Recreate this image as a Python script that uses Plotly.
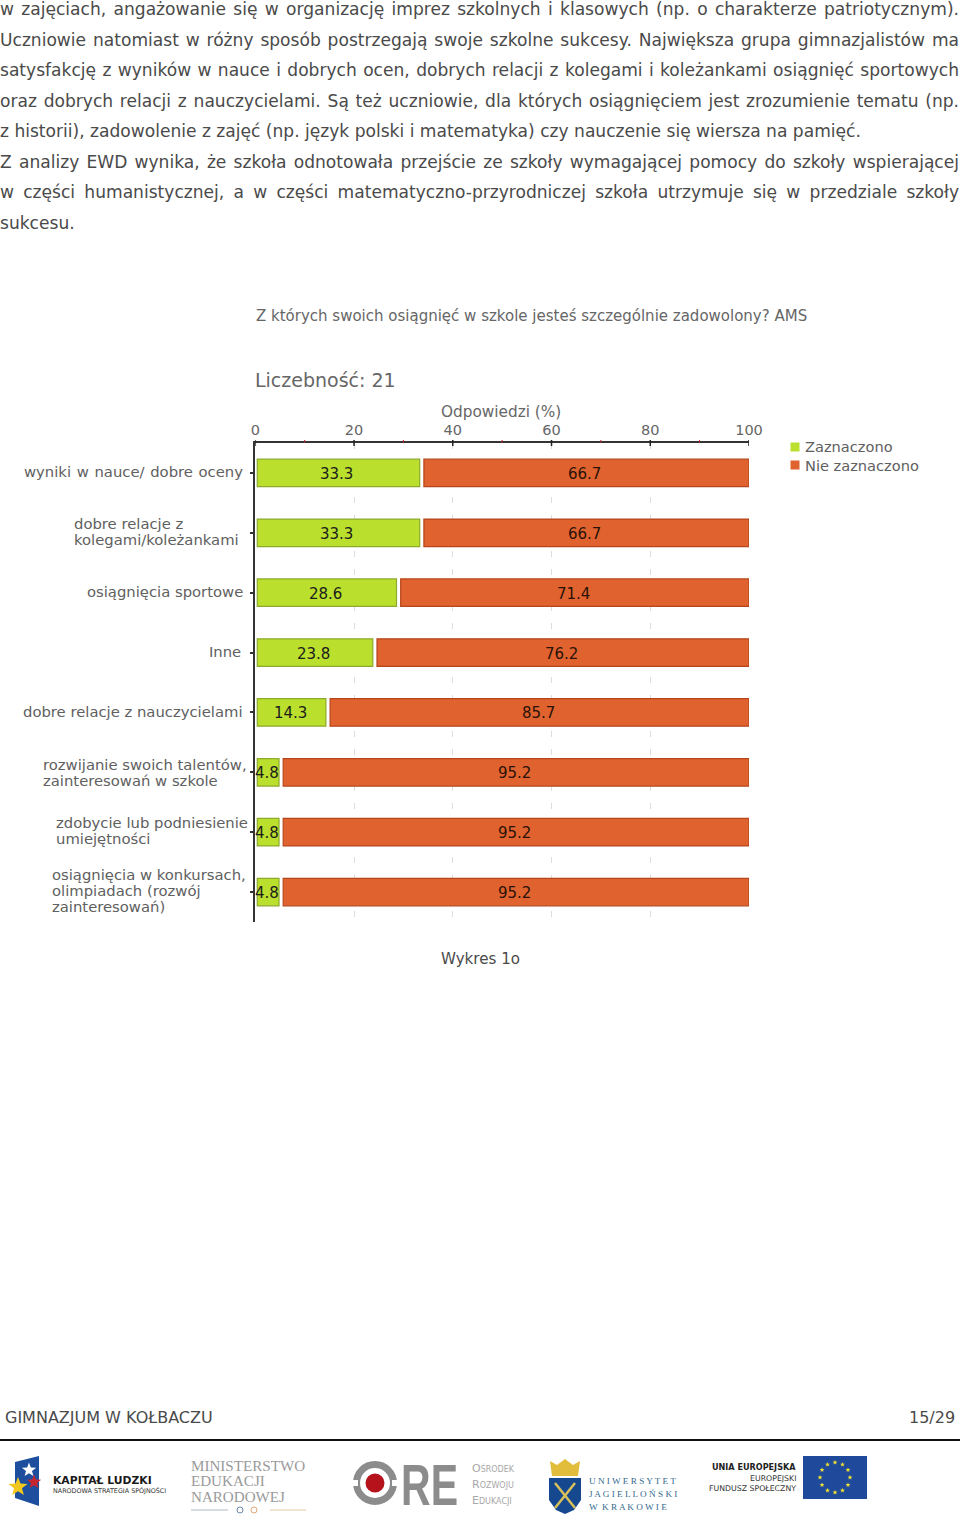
import json
import math
import plotly.graph_objects as go

W, H = 960, 1528

categories = ["wyniki w nauce/ dobre oceny", "dobre relacje z kolegami/koleżankami", "osiągnięcia sportowe", "Inne",
              "dobre relacje z nauczycielami", "rozwijanie swoich talentów, zainteresowań w szkole",
              "zdobycie lub podniesienie umiejętności", "osiągnięcia w konkursach, olimpiadach (rozwój zainteresowań)"]
zaznaczono = [33.3, 33.3, 28.6, 23.8, 14.3, 4.8, 4.8, 4.8]
nie_zaznaczono = [66.7, 66.7, 71.4, 76.2, 85.7, 95.2, 95.2, 95.2]
x_ticks = [0, 20, 40, 60, 80, 100]
x_minor_ticks = [10, 30, 50, 70, 90]

label_lines = [["wyniki w nauce/ dobre oceny"], ["dobre relacje z", "kolegami/koleżankami"], ["osiągnięcia sportowe"], ["Inne"],
               ["dobre relacje z nauczycielami"], ["rozwijanie swoich talentów,", "zainteresowań w szkole"],
               ["zdobycie lub podniesienie", "umiejętności"], ["osiągnięcia w konkursach,", "olimpiadach (rozwój", "zainteresowań)"]]
label_left = [24, 74, 87, 209, 23, 43, 56, 52]
label_nudge = [0, 0, 0, 0, 0, 1, -1, -1]

body_lines = [
    ("w zajęciach, angażowanie się w organizację imprez szkolnych i klasowych (np. o charakterze patriotycznym).", True),
    ("Uczniowie natomiast w różny sposób postrzegają swoje szkolne sukcesy. Największa grupa gimnazjalistów ma", True),
    ("satysfakcję z wyników w nauce i dobrych ocen, dobrych relacji z kolegami i koleżankami osiągnięć sportowych", True),
    ("oraz dobrych relacji z nauczycielami. Są też uczniowie, dla których osiągnięciem jest zrozumienie tematu (np.", True),
    ("z historii), zadowolenie z zajęć (np. język polski i matematyka) czy nauczenie się wiersza na pamięć.", False),
    ("Z analizy EWD wynika, że szkoła odnotowała przejście ze szkoły wymagającej pomocy do szkoły wspierającej", True),
    ("w części humanistycznej, a w części matematyczno-przyrodniczej szkoła utrzymuje się w przedziale szkoły", True),
    ("sukcesu.", False),
]
body_y = [9, 40, 70, 101, 131, 162, 192, 223]

GREEN, GREEN_EDGE = "#BADF2C", "#8DAA2C"
RED, RED_EDGE = "#E0622E", "#B5451B"
SANS = "DejaVu Sans"
GRAY = "#555555"
INSET, GAP = 0.4, 0.85


def px(x):
    return x / W


def py(y):
    return 1 - y / H


annotations = []
shapes = []


def T(x, y, text, size=14, color=GRAY, anchor="left", family=SANS):
    annotations.append(dict(xref="paper", yref="paper", x=px(x), y=py(y), text=text, showarrow=False,
                            xanchor=anchor, yanchor="middle", align=anchor,
                            font=dict(size=size, color=color, family=family),
                            borderpad=0, borderwidth=0))


def rect(x0, y0, x1, y1, fill, line=None):
    shapes.append(dict(type="rect", xref="paper", yref="paper", x0=px(x0), x1=px(x1), y0=py(y0), y1=py(y1),
                       fillcolor=fill, line=dict(width=0 if line is None else 1, color=line or fill)))


def circle(cx, cy, r, fill, line=None, lw=0):
    shapes.append(dict(type="circle", xref="paper", yref="paper", x0=px(cx - r), x1=px(cx + r), y0=py(cy - r), y1=py(cy + r),
                       fillcolor=fill, line=dict(width=lw, color=line or fill)))


def poly(points, fill, line=None, lw=0):
    d = "M " + " L ".join(f"{px(a):.5f},{py(b):.5f}" for a, b in points) + " Z"
    shapes.append(dict(type="path", xref="paper", yref="paper", path=d, fillcolor=fill,
                       line=dict(width=lw, color=line or fill)))


def seg(x0, y0, x1, y1, color, lw=1):
    shapes.append(dict(type="line", xref="paper", yref="paper", x0=px(x0), x1=px(x1), y0=py(y0), y1=py(y1),
                       line=dict(width=lw, color=color)))


def star(cx, cy, r, fill):
    pts = []
    for i in range(10):
        a = -math.pi / 2 + i * math.pi / 5
        rr = r if i % 2 == 0 else r * 0.42
        pts.append((cx + rr * math.cos(a), cy + rr * math.sin(a)))
    poly(pts, fill)


# --- body text ---
targets = {"wyniki w nauce/ dobre oceny": 219}
for (line, just), y in zip(body_lines, body_y):
    T(0, y, line, size=17.08, color="#4a4a4a")
    if just:
        targets[line] = 959

# --- chart texts ---
T(256, 316, "Z których swoich osiągnięć w szkole jesteś szczególnie zadowolony? AMS", 15, "#666666")
T(255, 380, "Liczebność: 21", 19, "#666666")
T(501, 412, "Odpowiedzi (%)", 15.3, "#666666", "center")
T(480, 959, "Wykres 1o", 15.1, "#4a4a4a", "center")

# --- category labels, line by line ---
for i, (lines, left, nudge) in enumerate(zip(label_lines, label_left, label_nudge)):
    centre = 472 + 59.95 * i + nudge
    top = centre - (len(lines) - 1) * 8
    for j, s in enumerate(lines):
        T(left, top + j * 16, s, 14.8, "#606060")

# --- legend ---
for y, s, c in zip([447, 465], ["Zaznaczono", "Nie zaznaczono"], [GREEN, RED]):
    rect(790.5, y - 4.5, 799.5, y + 4.5, c)
    T(805, y, s, 14.6, "#606060")

# --- footer ---
T(5, 1417, "GIMNAZJUM W KOŁBACZU", 16, "#4a4a4a")
T(955, 1417, "15/29", 16, "#4a4a4a", "right")
seg(0, 1440, 960, 1440, "#111111", 2)

# --- logos: Kapitał Ludzki ---
poly([(15, 1462), (39, 1456), (39, 1506), (15, 1498)], "#1d4f9e")
star(29, 1470, 7.5, "#ffffff")
star(18, 1487, 10, "#f3c81e")
star(34, 1482, 7.5, "#c8262e")
T(53, 1480, "<b>KAPITAŁ LUDZKI</b>", 10.8, "#1a1a1a")
T(53, 1491, "NARODOWA STRATEGIA SPÓJNOŚCI", 6.4, "#333333")

# --- MEN ---
for y, s in zip([1466, 1481, 1497], ["MINISTERSTWO", "EDUKACJI", "NARODOWEJ"]):
    T(191, y, s, 15.1, "#9a9a9a", family="Liberation Serif")
seg(191, 1510, 228, 1510, "#aeb9c4", 1)
seg(270, 1510, 306, 1510, "#e6c9a8", 1)
circle(240, 1510, 3, "#ffffff", "#6d8aa8", 1)
circle(254, 1510, 3, "#ffffff", "#e0a878", 1)

# --- ORE ---
circle(375, 1483, 18.5, "rgba(0,0,0,0)", "#8c8c8c", 7)
rect(350, 1480, 358, 1486, "#ffffff")
rect(392, 1480, 400, 1486, "#ffffff")
circle(375, 1483, 9.5, "#b5121b")
T(401, 1484, "<b>RE</b>", 58, "#8c8c8c", family="Liberation Sans")
for y, s in zip([1468, 1484, 1500], ["Ośrodek", "Rozwoju", "Edukacji"]):
    T(472, y, f"<span style='font-size:11px'>{s[0]}</span>{s[1:].upper()}", 8, "#a8a8a8")

# --- UJ ---
poly([(550, 1461), (557, 1465), (565, 1459), (573, 1465), (580, 1461), (578, 1476), (552, 1476)], "#e2bd3c")
poly([(549, 1478), (581, 1478), (581, 1500), (574, 1510), (565, 1514), (556, 1510), (549, 1500)], "#15488e")
seg(555, 1483, 575, 1508, "#d8c05a", 2.5)
seg(575, 1483, 555, 1508, "#d8c05a", 2.5)
for y, s in zip([1481, 1494, 1507], ["U N I W E R S Y T E T", "J A G I E L L O Ń S K I", "W  K R A K O W I E"]):
    T(589, y, s, 9.2, "#356a8e", family="Liberation Serif")

# --- EU ---
rect(803, 1456, 867, 1499, "#1f4a9b")
for k in range(12):
    a = k * math.pi / 6
    star(835 + 15 * math.cos(a), 1477.5 + 15 * math.sin(a), 2.6, "#f0e030")
T(796, 1467, "<b>UNIA EUROPEJSKA</b>", 8.1, "#222222", "right")
T(796, 1478, "EUROPEJSKI", 7.8, "#333333", "right")
T(796, 1488, "FUNDUSZ SPOŁECZNY", 7.8, "#333333", "right")

# --- x-axis ticks: black ones cross the axis line, short red ones sit above it ---
for v in x_ticks:
    shapes.append(dict(type="line", xref="x", yref="paper", x0=v, x1=v, y0=py(440), y1=py(446),
                       line=dict(width=1.5, color="#222222")))
for v in x_minor_ticks:
    shapes.append(dict(type="line", xref="x", yref="paper", x0=v, x1=v, y0=py(443), y1=py(440),
                       line=dict(width=1, color="#b0203a")))

# --- bars ---
green_w = [v - INSET for v in zaznaczono]
red_base = [v + GAP for v in zaznaczono]
red_w = [v - GAP for v in nie_zaznaczono]

fig = go.Figure()
fig.add_bar(name="Zaznaczono", orientation="h", y=categories, x=green_w, base=[INSET] * len(zaznaczono),
            width=0.46, marker=dict(color=GREEN, line=dict(color=GREEN_EDGE, width=1.2)), showlegend=False)
fig.add_bar(name="Nie zaznaczono", orientation="h", y=categories, x=red_w, base=red_base,
            width=0.46, marker=dict(color=RED, line=dict(color=RED_EDGE, width=1.2)), showlegend=False)

# value labels, placed through the axes
for cat, g, r, b, w in zip(categories, zaznaczono, nie_zaznaczono, red_base, red_w):
    for cx, val, col in [((INSET + g) / 2, g, "#1c1c1c"), (b + w / 2, r, "#2a1208")]:
        annotations.append(dict(xref="x", yref="y", x=cx, y=cat, text=f"{val:.1f}", showarrow=False,
                                xanchor="center", yanchor="middle", xshift=-1.5, yshift=-1,
                                font=dict(size=15, color=col, family=SANS)))

fig.update_layout(
    width=W, height=H, margin=dict(l=0, r=0, t=0, b=0, autoexpand=False), paper_bgcolor="white", plot_bgcolor="white",
    barmode="overlay", showlegend=False,
    font=dict(family=SANS, color=GRAY),
    annotations=annotations, shapes=shapes,
    xaxis=dict(domain=[px(255.3), px(749)], range=[0, 100], side="top", anchor="y", tickmode="array", tickvals=x_ticks,
               ticktext=[str(t) for t in x_ticks], ticks="",
               tickfont=dict(size=14.5, color="#666666"), automargin=False,
               showline=True, linecolor="#333333", linewidth=1.5,
               showgrid=True, gridcolor="#dddddd", griddash="6px,12px", gridwidth=1, zeroline=False),
    yaxis=dict(domain=[py(922), py(443)], range=[7.5, -0.5], anchor="x", type="category", categoryorder="array",
               categoryarray=categories, showticklabels=False, ticks="outside", ticklen=4, tickwidth=1.5, automargin=False,
               tickcolor="#333333", showline=True, linecolor="#333333", linewidth=1.5, showgrid=False, zeroline=False),
)

post = """
document.body.style.margin = '0';
var targets = %s;
function justify() {
  document.querySelectorAll('.annotation-text').forEach(function (t) {
    if (t.textContent === 'RE') {
      t.setAttribute('textLength', '57');
      t.setAttribute('lengthAdjust', 'spacingAndGlyphs');
      return;
    }
    var w = targets[t.textContent];
    if (!w) return;
    t.style.wordSpacing = '0px';
    var n = t.textContent.split(' ').length - 1;
    t.style.wordSpacing = ((w - t.getComputedTextLength()) / n) + 'px';
  });
}
justify();
setTimeout(justify, 60);
""" % json.dumps(targets, ensure_ascii=False)

fig.write_html("out.html", post_script=post, config=dict(displayModeBar=False))
